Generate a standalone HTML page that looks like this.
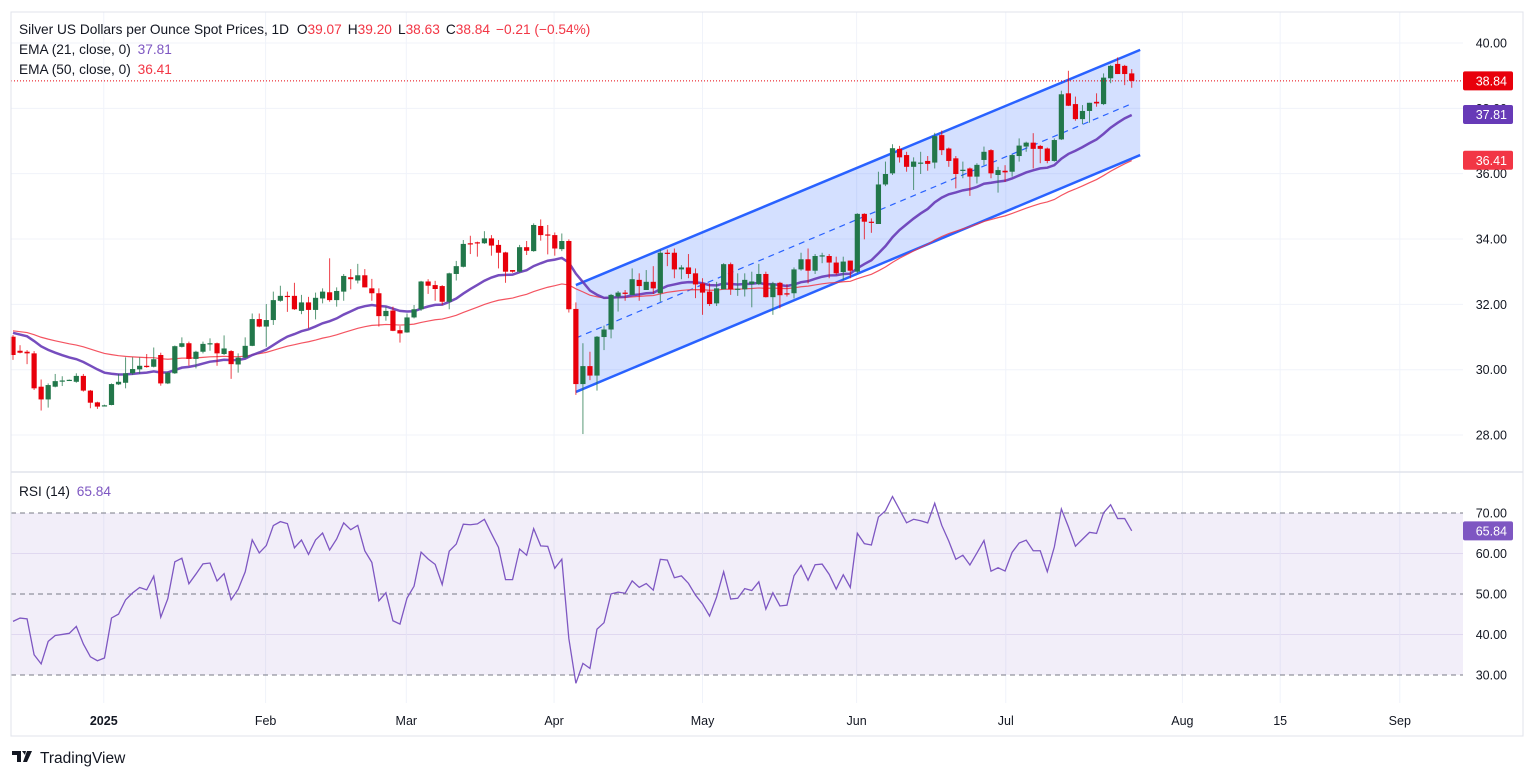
<!DOCTYPE html>
<html><head><meta charset="utf-8">
<style>
html,body{margin:0;padding:0;background:#fff;}
svg{display:block;font-family:"Liberation Sans",sans-serif;}
</style></head>
<body>
<svg id="chart" width="1536" height="777" viewBox="0 0 1536 777" xmlns="http://www.w3.org/2000/svg">
<rect x="0" y="0" width="1536" height="777" fill="#fff"/>
<g id="grid"></g>
<g id="rsiBg"></g>
<g id="channel"></g>
<g id="emas"></g>
<g id="candles"></g>
<g id="rsi"></g>
<g id="axes"></g>
<rect x="11" y="12" width="1512" height="724" fill="none" stroke="#e0e3eb" stroke-width="1"/>
<line x1="11" y1="472" x2="1523" y2="472" stroke="#e0e3eb" stroke-width="1.5"/>
<g font-size="13.7">
<text x="19" y="34" fill="#131722">Silver US Dollars per Ounce Spot Prices, 1D <tspan dx="4">O</tspan><tspan fill="#f23645">39.07</tspan><tspan dx="6">H</tspan><tspan fill="#f23645">39.20</tspan><tspan dx="6">L</tspan><tspan fill="#f23645">38.63</tspan><tspan dx="6">C</tspan><tspan fill="#f23645">38.84</tspan><tspan dx="6" fill="#f23645">−0.21 (−0.54%)</tspan></text>
<text x="19" y="54" fill="#131722">EMA (21, close, 0) <tspan dx="3" fill="#7e57c2">37.81</tspan></text>
<text x="19" y="74" fill="#131722">EMA (50, close, 0) <tspan dx="3" fill="#f23645">36.41</tspan></text>
<text x="19" y="496" fill="#131722">RSI (14) <tspan dx="3" fill="#7e57c2">65.84</tspan></text>
</g>
<g>
<path d="M12 751h9v11h-4v-7h-5z M22 751h4l-1 4z M27 751h5l-5 11h-4z" fill="#131722"/>
<text x="40" y="763" font-size="15.5" fill="#131722">TradingView</text>
</g>
</svg>
<script>
const O=[31.01,30.58,30.55,30.50,29.48,29.09,29.48,29.64,29.68,29.63,29.81,29.36,29.00,28.91,28.92,29.55,29.60,29.89,30.01,30.12,30.09,30.45,29.58,29.89,30.70,30.81,30.33,30.55,30.79,30.81,30.48,30.57,30.16,30.37,30.73,31.55,31.32,31.52,32.11,32.26,32.26,31.80,32.06,31.83,32.18,32.37,32.13,32.39,32.83,32.73,32.89,32.49,32.34,31.64,31.81,31.21,31.14,31.60,31.85,32.70,32.59,32.56,32.08,32.93,33.15,33.87,33.90,33.87,34.02,33.82,33.59,33.05,33.00,33.75,33.63,34.40,34.14,34.12,33.69,33.94,31.86,29.56,30.11,29.82,31.00,31.23,32.24,32.36,32.29,32.75,32.44,32.69,32.34,33.58,33.58,33.07,33.13,32.95,32.64,32.39,32.03,32.46,33.23,32.46,32.46,32.62,32.62,32.93,32.22,32.66,32.34,32.34,33.07,33.38,33.03,33.48,33.48,33.28,32.99,33.34,33.00,34.77,34.53,34.46,35.67,36.01,36.76,36.57,36.21,36.32,36.39,36.34,37.18,36.77,36.47,36.10,36.16,35.91,36.42,36.72,35.96,36.09,36.06,36.54,36.83,36.95,36.85,36.77,36.39,37.05,38.46,38.13,37.67,37.92,38.20,38.13,38.92,39.36,39.30,39.07];
const H=[31.06,30.75,30.60,30.57,29.70,29.58,29.87,29.80,29.70,29.89,29.87,29.38,29.02,28.93,29.58,29.87,30.38,30.38,30.38,30.48,30.68,30.52,29.94,30.74,30.99,30.86,30.58,30.86,30.96,30.83,31.05,30.60,30.50,30.99,31.72,31.72,32.01,32.39,32.57,32.39,32.66,32.29,32.23,32.36,32.49,33.41,32.52,32.93,33.08,33.24,33.08,32.78,32.49,31.93,31.93,31.34,31.72,31.98,32.72,32.77,32.72,32.59,32.97,33.33,33.97,34.10,33.92,34.24,34.12,33.97,33.61,33.05,33.82,33.94,34.48,34.60,34.43,34.20,34.17,33.99,32.06,30.81,30.55,31.03,31.35,32.32,32.41,32.44,33.10,32.95,33.05,33.17,33.68,33.68,33.71,33.20,33.54,33.10,32.80,32.64,32.69,33.26,33.28,32.95,32.95,33.00,33.24,33.00,32.69,32.69,32.62,33.13,33.58,33.71,33.54,33.58,33.54,33.46,33.46,33.34,34.79,34.79,34.63,36.06,36.37,36.90,36.85,36.67,36.50,36.67,36.54,37.25,37.32,36.80,36.54,36.37,36.19,36.32,36.83,36.75,36.21,36.26,36.60,37.08,36.98,37.24,36.88,36.80,37.08,38.54,39.15,38.36,38.10,38.17,38.46,39.07,39.33,39.56,39.33,39.20];
const L=[30.30,30.50,30.17,29.38,28.75,28.84,29.46,29.50,29.66,29.60,29.33,28.82,28.80,28.90,28.91,29.53,29.43,29.84,29.87,30.06,30.07,29.51,29.56,29.87,30.68,30.12,30.04,30.50,30.58,30.12,30.45,29.72,29.91,30.35,30.72,31.30,30.70,31.37,32.08,31.77,31.83,31.70,31.27,31.54,32.03,32.08,31.93,32.11,32.46,32.64,32.52,32.11,31.32,31.50,31.18,30.83,31.13,31.57,31.80,32.32,32.11,31.98,31.85,32.73,33.13,33.54,33.46,33.85,33.49,33.10,32.66,32.97,32.97,33.51,33.61,33.95,33.53,33.49,33.63,31.75,29.23,28.03,29.68,29.36,30.60,30.96,31.78,32.11,32.29,32.11,32.44,32.32,32.08,33.17,32.80,32.77,32.80,32.19,31.68,31.95,31.95,32.46,32.29,32.26,32.24,31.91,32.59,32.21,31.68,31.88,32.24,32.18,33.03,32.64,32.93,33.26,32.80,32.90,32.75,32.80,32.95,33.99,34.19,34.46,35.62,35.96,36.34,36.06,35.50,35.99,36.09,36.16,36.57,36.21,35.55,35.86,35.32,35.70,36.26,35.86,35.42,35.75,35.91,36.37,36.67,36.16,36.32,36.32,36.37,37.03,38.07,37.62,37.52,37.56,38.05,38.10,38.77,39.05,38.71,38.63];
const C=[30.45,30.52,30.50,29.43,29.09,29.53,29.65,29.67,29.69,29.81,29.36,28.99,28.87,28.91,29.56,29.63,29.89,30.02,30.12,30.08,30.32,29.58,29.91,30.72,30.81,30.33,30.55,30.79,30.81,30.50,30.65,30.17,30.37,30.73,31.55,31.32,31.52,32.13,32.26,32.23,31.85,32.06,31.83,32.20,32.39,32.13,32.41,32.87,32.77,32.89,32.52,32.34,31.64,31.80,31.19,31.11,31.60,31.85,32.70,32.57,32.47,32.08,32.95,33.17,33.85,33.84,33.87,34.02,33.80,33.58,33.00,33.00,33.75,33.64,34.43,34.12,34.11,33.71,33.94,31.85,29.56,30.11,29.82,31.01,31.23,32.29,32.36,32.32,32.77,32.56,32.69,32.49,33.58,33.56,33.07,33.13,32.93,32.61,32.36,32.01,32.49,33.23,32.46,32.48,32.75,32.70,32.93,32.22,32.64,32.28,32.30,33.07,33.38,33.03,33.48,33.50,33.28,32.95,33.31,33.03,34.77,34.53,34.50,35.67,35.99,36.78,36.50,36.21,36.37,36.34,36.30,37.15,36.72,36.39,35.99,36.12,35.91,36.27,36.67,36.01,36.11,36.04,36.57,36.86,36.95,36.76,36.76,36.39,37.03,38.43,38.08,37.67,37.92,38.17,38.15,38.94,39.30,39.05,39.05,38.84];
const emaSeeds=[31.13,31.19];
const rsiSeedGainLoss=[0.16,0.21];
const priceTicks=[28,30,32,34,36,38,40];
const rsiTicks=[30,40,50,60,70];
const rsiDashed=[70,50,30];
const timeTickIdx=[12.9,35.9,55.9,76.9,98,119.9,141.1,166.2,180.1,197.1];
const timeTickLabels=["2025","Feb","Mar","Apr","May","Jun","Jul","Aug","15","Sep"];
const upperChan=[[80,32.59],[160.2,39.79]];
const lowerChan=[[80,29.32],[160.2,36.57]];
const midChan=[[80,30.97],[159.2,38.16]];
const lastLabels=[["38.84",38.84,"#e8000b"],["37.81",37.81,"#673ab7"],["36.41",36.41,"#f23645"]];

const NS="http://www.w3.org/2000/svg";
const X0=13,DX=7.036,PANE_R=1463;
const xs=i=>X0+i*DX;
const py=p=>43+(40-p)*32.67;
const ry=v=>513+(70-v)*4.05;
function mk(tag,attrs,parent){const e=document.createElementNS(NS,tag);for(const k in attrs)e.setAttribute(k,attrs[k]);parent.appendChild(e);return e;}
const grid=document.getElementById('grid'),axes=document.getElementById('axes');
priceTicks.forEach(p=>{
  const l=mk('line',{x1:11,x2:PANE_R,y1:py(p),y2:py(p),stroke:'#f0f3fa'},grid);
  
  
  const t=mk('text',{x:1507,y:py(p)+4.5,'text-anchor':'end','font-size':12.5,fill:'#131722'},axes);
  t.textContent=p.toFixed(2);
  
  
});
[60,40].forEach(v=>{mk('line',{x1:11,x2:PANE_R,y1:ry(v),y2:ry(v),stroke:'#ebe7f5'},grid);});
timeTickIdx.forEach((ix,k)=>{
  const x=xs(ix);
  mk('line',{x1:x,x2:x,y1:12,y2:703,stroke:'#f0f3fa'},grid);
  const t=mk('text',{x:x,y:725,'text-anchor':'middle','font-size':12.5,fill:'#131722','font-weight':k===0?'bold':'normal'},axes);
  t.textContent=timeTickLabels[k];
  
  
});
const rb=document.getElementById('rsiBg');
mk('rect',{x:11,y:ry(70),width:PANE_R-11,height:ry(30)-ry(70),fill:'rgba(126,87,194,0.1)'},rb);
rsiDashed.forEach(v=>{const l=mk('line',{x1:11,x2:PANE_R,y1:ry(v),y2:ry(v),stroke:'#787b86','stroke-dasharray':'5,4'},rb);
  
  });
rsiTicks.forEach(v=>{const t=mk('text',{x:1507,y:ry(v)+4.5,'text-anchor':'end','font-size':12.5,fill:'#131722'},axes);t.textContent=v.toFixed(2);
  
  });
const ch=document.getElementById('channel');
const P=pt=>[xs(pt[0]),py(pt[1])];
const u0=P(upperChan[0]),u1=P(upperChan[1]),l0=P(lowerChan[0]),l1=P(lowerChan[1]);
const poly=mk('polygon',{points:[u0,u1,l1,l0].map(p=>p.join(',')).join(' '),fill:'rgba(41,98,255,0.2)'},ch);


const ul=mk('line',{x1:u0[0],y1:u0[1],x2:u1[0],y2:u1[1],stroke:'#2962ff','stroke-width':2.5},ch);


const ll=mk('line',{x1:l0[0],y1:l0[1],x2:l1[0],y2:l1[1],stroke:'#2962ff','stroke-width':2.5},ch);


const m0=P(midChan[0]),m1=P(midChan[1]);
const ml=mk('line',{x1:m0[0],y1:m0[1],x2:m1[0],y2:m1[1],stroke:'#2962ff','stroke-width':1.2,'stroke-dasharray':'6,5'},ch);


function ema(n,seed){const a=2/(n+1);let e=seed;return C.map((c,i)=>{if(i>0)e=e+a*(c-e);return e;});}
const e21=ema(21,emaSeeds[0]),e50=ema(50,emaSeeds[1]);
const eg=document.getElementById('emas');
const p50=mk('polyline',{points:e50.map((v,i)=>xs(i)+','+py(v)).join(' '),fill:'none',stroke:'#f23645','stroke-width':1.2,opacity:0.85},eg);


const p21=mk('polyline',{points:e21.map((v,i)=>xs(i)+','+py(v)).join(' '),fill:'none',stroke:'#673ab7','stroke-width':2.5,opacity:0.9},eg);


const cg=document.getElementById('candles');
C.forEach((c,i)=>{
  const up=c>=O[i],col=up?'#22774a':'#e8000b',x=xs(i);
  const g=mk('g',{},cg);
  
  
  mk('line',{x1:x,x2:x,y1:py(H[i]),y2:py(L[i]),stroke:col,'stroke-width':1,opacity:0.75},g);
  const top=py(Math.max(c,O[i])),h=Math.max(1.2,Math.abs(py(c)-py(O[i])));
  mk('rect',{x:x-2.6,y:top,width:5.2,height:h,fill:col},g);
});
const last=C[C.length-1];
const lp=mk('line',{x1:11,x2:PANE_R,y1:py(last),y2:py(last),stroke:'#e8000b','stroke-width':1,'stroke-dasharray':'1,2'},axes);


lastLabels.forEach(lb=>{
  const y=py(lb[1]);
  const g=mk('g',{},axes);
  
  
  mk('rect',{x:1463,y:y-9.5,width:50,height:19,rx:2,fill:lb[2]},g);
  const t=mk('text',{x:1507,y:y+4.5,'text-anchor':'end','font-size':12.5,fill:'#fff'},g);t.textContent=lb[0];
});
let ag=rsiSeedGainLoss[0],al=rsiSeedGainLoss[1];
const rsi=C.map((c,i)=>{if(i>0){const d=c-C[i-1];ag=(ag*13+Math.max(d,0))/14;al=(al*13+Math.max(-d,0))/14;}return 100-100/(1+ag/al);});
const rg=document.getElementById('rsi');
const rl=mk('polyline',{points:rsi.map((v,i)=>xs(i)+','+ry(v)).join(' '),fill:'none',stroke:'#7e57c2','stroke-width':1.3},rg);


const rv=rsi[rsi.length-1];
const rgl=mk('g',{},axes);


mk('rect',{x:1463,y:ry(rv)-9.5,width:50,height:19,rx:2,fill:'#7e57c2'},rgl);
const rt=mk('text',{x:1507,y:ry(rv)+4.5,'text-anchor':'end','font-size':12.5,fill:'#fff'},rgl);rt.textContent="65.84";
</script>
</body></html>
